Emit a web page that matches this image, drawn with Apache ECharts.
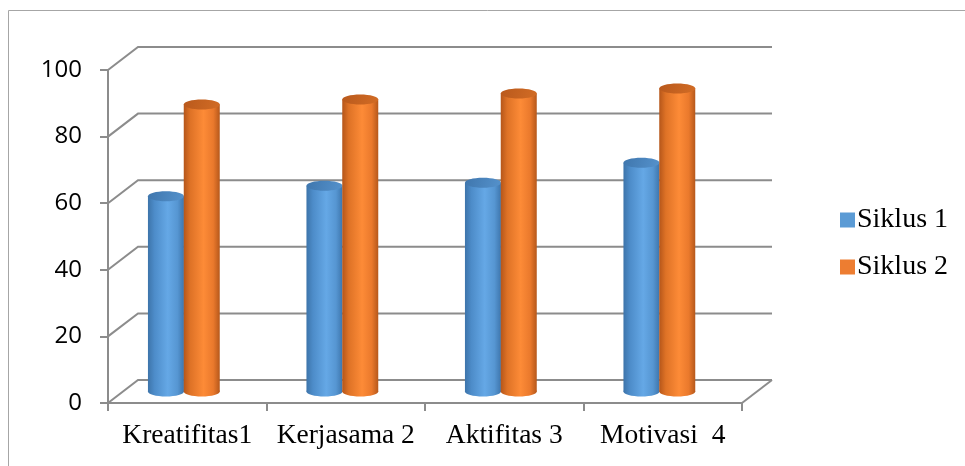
<!DOCTYPE html>
<html>
<head>
<meta charset="utf-8">
<script src="https://cdn.jsdelivr.net/npm/echarts@6/dist/echarts.min.js"></script>
<style>
  html, body { margin: 0; padding: 0; background: #ffffff; }
  #chart { width: 965px; height: 466px; }
</style>
</head>
<body>
<div id="chart"></div>
<script>
// Category names along the floor of the chart
const categories = ['Kreatifitas1', 'Kerjasama 2', 'Aktifitas 3', 'Motivasi  4'];
// Scores per cycle
const siklus1 = [58.6, 61.8, 62.7, 68.7];
const siklus2 = [86.2, 87.7, 89.5, 91.0];
const seriesNames = ['Siklus 1', 'Siklus 2'];
// Value axis ticks
const yTicks = [0, 20, 40, 60, 80, 100];

// Depth of the pseudo-3D box (back wall offset from the front plane)
const DEPTH_X = 30;
const DEPTH_Y = -23;
const LINE_COLOR = '#8c8c8c';

const chart = echarts.init(document.getElementById('chart'), null, { renderer: 'canvas' });

// Back wall gridlines, side connectors and floor outline
function renderFrame(params, api) {
  const cs = params.coordSys;
  const x0 = cs.x, x1 = cs.x + cs.width;
  const children = [];
  const style = { stroke: LINE_COLOR, lineWidth: 2, fill: null };
  yTicks.forEach(function (v) {
    const y = api.coord([0, v])[1];
    children.push({
      type: 'polyline',
      shape: { points: [[x0, y], [x0 + DEPTH_X, y + DEPTH_Y], [x1 + DEPTH_X, y + DEPTH_Y]] },
      style: style, silent: true
    });
  });
  const yb = api.coord([0, yTicks[0]])[1];
  children.push({
    type: 'line',
    shape: { x1: x1, y1: yb, x2: x1 + DEPTH_X, y2: yb + DEPTH_Y },
    style: style, silent: true
  });
  return { type: 'group', children: children };
}

// Shaded cylinder for one value, standing halfway into the box depth
function makeCylinder(xShift, bodyStops, topStops) {
  return function (params, api) {
    const cat = api.value(0);
    const val = api.value(1);
    const pTop = api.coord([cat, val]);
    const pBase = api.coord([cat, 0]);
    const halfW = 18;
    const ry = 5;
    const cx = pTop[0] + xShift;
    const yTop = pTop[1] + DEPTH_Y / 2;
    const yBot = pBase[1] + DEPTH_Y / 2;
    const body = new echarts.graphic.LinearGradient(0, 0, 1, 0, bodyStops);
    const cap = new echarts.graphic.LinearGradient(0, 0, 1, 1, topStops);
    return {
      type: 'group',
      children: [
        { type: 'ellipse', shape: { cx: cx, cy: yBot, rx: halfW, ry: ry }, style: { fill: body } },
        { type: 'rect', shape: { x: cx - halfW, y: yTop, width: halfW * 2, height: yBot - yTop }, style: { fill: body } },
        { type: 'ellipse', shape: { cx: cx, cy: yTop, rx: halfW, ry: ry }, style: { fill: cap } }
      ]
    };
  };
}

const blueBody = [
  { offset: 0, color: '#3d74aa' },
  { offset: 0.18, color: '#4d8cc9' },
  { offset: 0.55, color: '#65a8e6' },
  { offset: 0.82, color: '#5696d2' },
  { offset: 1, color: '#3e76ad' }
];
const blueTop = [
  { offset: 0, color: '#3f76ad' },
  { offset: 1, color: '#5592cc' }
];
const orangeBody = [
  { offset: 0, color: '#b5561a' },
  { offset: 0.18, color: '#de7226' },
  { offset: 0.55, color: '#fd8b37' },
  { offset: 0.82, color: '#ea792c' },
  { offset: 1, color: '#b6581b' }
];
const orangeTop = [
  { offset: 0, color: '#b9591c' },
  { offset: 1, color: '#d26c25' }
];

function toPairs(arr) {
  return arr.map(function (v, i) { return [i, v]; });
}

const option = {
  animation: false,
  backgroundColor: '#ffffff',
  graphic: [{
    type: 'rect',
    shape: { x: 8.5, y: 10.5, width: 1000, height: 500 },
    style: { fill: null, stroke: '#a6a6a6', lineWidth: 1 },
    silent: true
  }],
  grid: { left: 108, right: 223, top: 70, bottom: 63, containLabel: false },
  legend: {
    orient: 'vertical',
    left: 835,
    top: 201,
    itemWidth: 15,
    itemHeight: 15,
    itemGap: 19,
    icon: 'rect',
    data: seriesNames,
    textStyle: { fontFamily: 'Liberation Serif', fontSize: 28, color: '#000000', padding: [0, 0, 0, -3] }
  },
  xAxis: {
    type: 'category',
    data: categories,
    axisLine: { show: true, lineStyle: { color: LINE_COLOR, width: 2 } },
    axisTick: { show: true, length: 8, lineStyle: { color: LINE_COLOR, width: 2 } },
    axisLabel: { interval: 0, margin: 19, fontFamily: 'Liberation Serif', fontSize: 27.5, color: '#000000' },
    splitLine: { show: false }
  },
  yAxis: {
    type: 'value',
    min: yTicks[0],
    max: yTicks[yTicks.length - 1],
    interval: 20,
    axisLine: { show: true, lineStyle: { color: LINE_COLOR, width: 2 } },
    axisTick: { show: true, length: 8, lineStyle: { color: LINE_COLOR, width: 2 } },
    axisLabel: { margin: 26, fontFamily: 'Open Sans', fontSize: 24, color: '#000000' },
    splitLine: { show: false }
  },
  series: [
    {
      type: 'custom',
      renderItem: renderFrame,
      data: [[0, 0]],
      silent: true,
      z: 1
    },
    {
      name: seriesNames[0],
      type: 'custom',
      itemStyle: { color: '#5b9bd5' },
      renderItem: makeCylinder(-21.3, blueBody, blueTop),
      data: toPairs(siklus1),
      z: 2
    },
    {
      name: seriesNames[1],
      type: 'custom',
      itemStyle: { color: '#ed7d31' },
      renderItem: makeCylinder(14.5, orangeBody, orangeTop),
      data: toPairs(siklus2),
      z: 3
    }
  ]
};

chart.setOption(option);
</script>
</body>
</html>
